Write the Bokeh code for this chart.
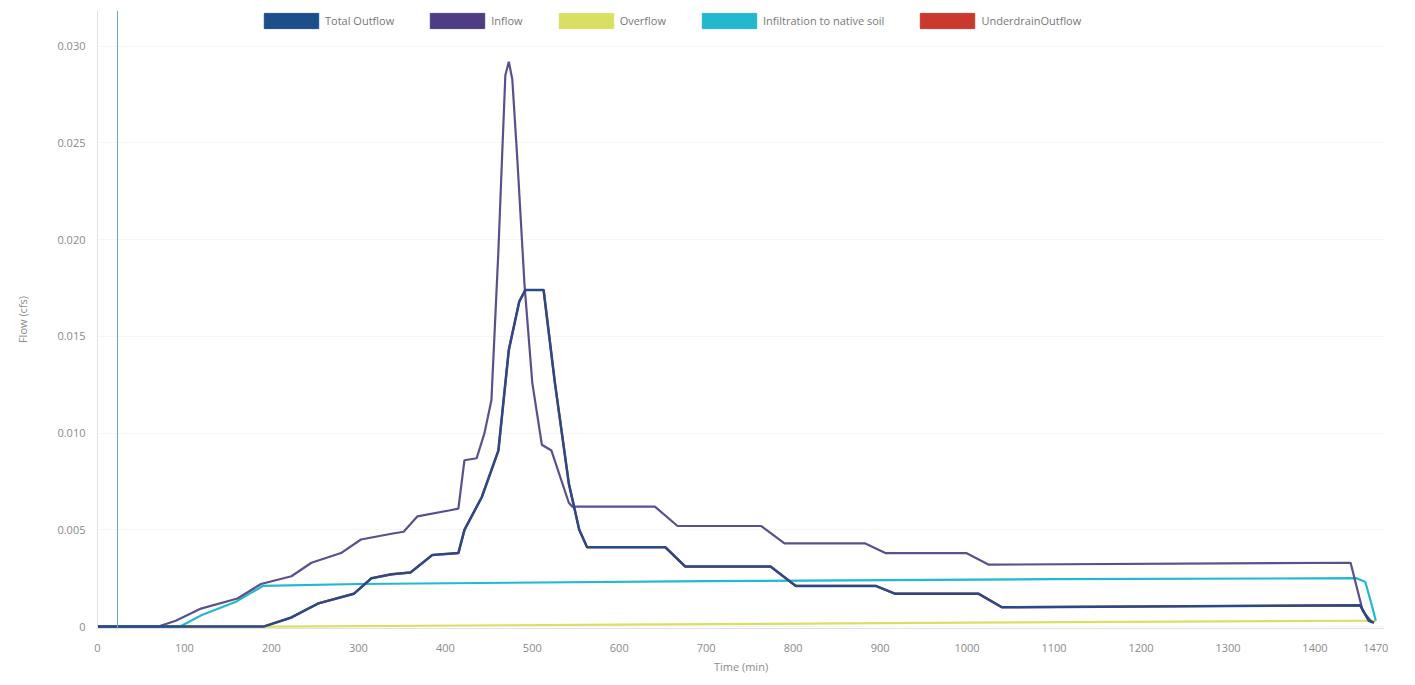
from bokeh.plotting import figure
from bokeh.models import Range1d, FixedTicker, Legend, LegendItem, Span
from bokeh.embed import file_html
from bokeh.resources import INLINE

# ---- data ----
inflow_t = [0, 70, 90, 119, 161, 188, 223, 246, 280, 303, 338, 352, 368, 404, 415, 422, 436, 445,
            453, 461, 465, 469, 473, 477, 483, 491, 500, 511, 522, 542, 546, 641, 667, 763, 790,
            883, 906, 999, 1025, 1441, 1455, 1466]
inflow_v = [0, 0, 0.0003, 0.00093, 0.00145, 0.0022, 0.0026, 0.0033, 0.0038, 0.0045, 0.0048, 0.0049,
            0.0057, 0.0060, 0.0061, 0.0086, 0.0087, 0.0100, 0.0117, 0.0194, 0.0240, 0.0285, 0.0292,
            0.0283, 0.0240, 0.0177, 0.0126, 0.0094, 0.0091, 0.0064, 0.0062, 0.0062, 0.0052, 0.0052,
            0.0043, 0.0043, 0.0038, 0.0038, 0.0032, 0.0033, 0.0008, 0.0002]

outflow_t = [0, 191, 223, 254, 295, 315, 338, 360, 385, 415, 422, 442, 461, 473, 485, 492, 513, 526,
             542, 554, 563, 653, 676, 774, 803, 895, 917, 1013, 1040, 1452, 1462, 1468]
outflow_v = [0, 0, 0.00047, 0.0012, 0.0017, 0.0025, 0.0027, 0.0028, 0.0037, 0.0038, 0.0050, 0.0067,
             0.0091, 0.0143, 0.0168, 0.0174, 0.0174, 0.0126, 0.0074, 0.0050, 0.0041, 0.0041, 0.0031,
             0.0031, 0.0021, 0.0021, 0.0017, 0.0017, 0.0010, 0.0011, 0.0003, 0.0002]

infil_t = [0, 95, 120, 160, 190, 300, 700, 1100, 1448, 1458, 1466, 1470]
infil_v = [0, 0, 0.0006, 0.0013, 0.0021, 0.0022, 0.00235, 0.00245, 0.0025, 0.0023, 0.0010, 0.0003]

overflow_t = [0, 200, 600, 1000, 1455, 1470]
overflow_v = [0, 0, 0.0001, 0.0002, 0.0003, 0.0003]

underdrain_t = outflow_t
underdrain_v = outflow_v

x_ticks = [0, 100, 200, 300, 400, 500, 600, 700, 800, 900, 1000, 1100, 1200, 1300, 1400, 1470]
y_ticks = [0, 0.005, 0.010, 0.015, 0.020, 0.025, 0.030]

names = ["Total Outflow", "Inflow", "Overflow", "Infiltration to native soil", "UnderdrainOutflow"]
colors = ["#1c4e8c", "#4e3d84", "#d9df63", "#22b8cf", "#c9392e"]

FONT = "Open Sans"

p = figure(width=1415, height=685, output_backend="svg", toolbar_location=None,
           x_range=Range1d(0, 1480), y_range=Range1d(-0.0001, 0.03185),
           min_border_left=97, min_border_right=31, min_border_top=10, min_border_bottom=57)
p.outline_line_color = None
p.background_fill_color = "white"
p.xgrid.grid_line_color = None
p.ygrid.grid_line_color = "#f6f6f6"

r_under = p.line(underdrain_t, underdrain_v, line_color=colors[4], line_width=2.2)
r_over = p.line(overflow_t, overflow_v, line_color=colors[2], line_width=2.2)
r_inf = p.line(infil_t, infil_v, line_color=colors[3], line_width=2.2)
r_in = p.line(inflow_t, inflow_v, line_color="#5b4f8c", line_width=2.2)
r_out = p.line(outflow_t, outflow_v, line_color="#2a4a86", line_width=2.5)

p.add_layout(Span(location=23, dimension="height", line_color="#6fa9bd", line_width=1))

p.xaxis.ticker = FixedTicker(ticks=x_ticks)
p.yaxis.ticker = FixedTicker(ticks=y_ticks)
p.yaxis.major_label_overrides = {0: "0", 0.005: "0.005", 0.010: "0.010", 0.015: "0.015",
                                 0.020: "0.020", 0.025: "0.025", 0.030: "0.030"}
for ax in (p.xaxis[0], p.yaxis[0]):
    ax.axis_line_color = "#e0e0e0"
    ax.major_tick_line_color = None
    ax.minor_tick_line_color = None
    ax.major_label_text_color = "#8a8a8a"
    ax.major_label_text_font = FONT
    ax.major_label_text_font_size = "11px"
    ax.axis_label_text_color = "#8a8a8a"
    ax.axis_label_text_font = FONT
    ax.axis_label_text_font_size = "11px"
    ax.axis_label_text_font_style = "normal"
p.xaxis.axis_label = "Time (min)"
p.yaxis.axis_label = "Flow (cfs)"
p.xaxis.major_label_standoff = 9
p.yaxis.major_label_standoff = 6
p.xaxis.axis_label_standoff = 4
p.yaxis.axis_label_standoff = 24

# legend swatches: filled blocks from off-screen quads
swatches = []
for c in colors:
    swatches.append(p.quad(left=[-50], right=[-40], bottom=[-1], top=[-0.9],
                           fill_color=c, line_color=c))

items = [LegendItem(label=n, renderers=[r]) for n, r in zip(names, swatches)]
legend = Legend(items=items, orientation="horizontal", location=(158, 596),
                glyph_width=68, glyph_height=19, spacing=29, padding=2, margin=0,
                label_text_font=FONT, label_text_font_size="11px", label_text_color="#777777",
                border_line_alpha=0, background_fill_alpha=0, label_standoff=0)
p.add_layout(legend, "center")

open("out.html", "w").write(file_html(p, INLINE))
